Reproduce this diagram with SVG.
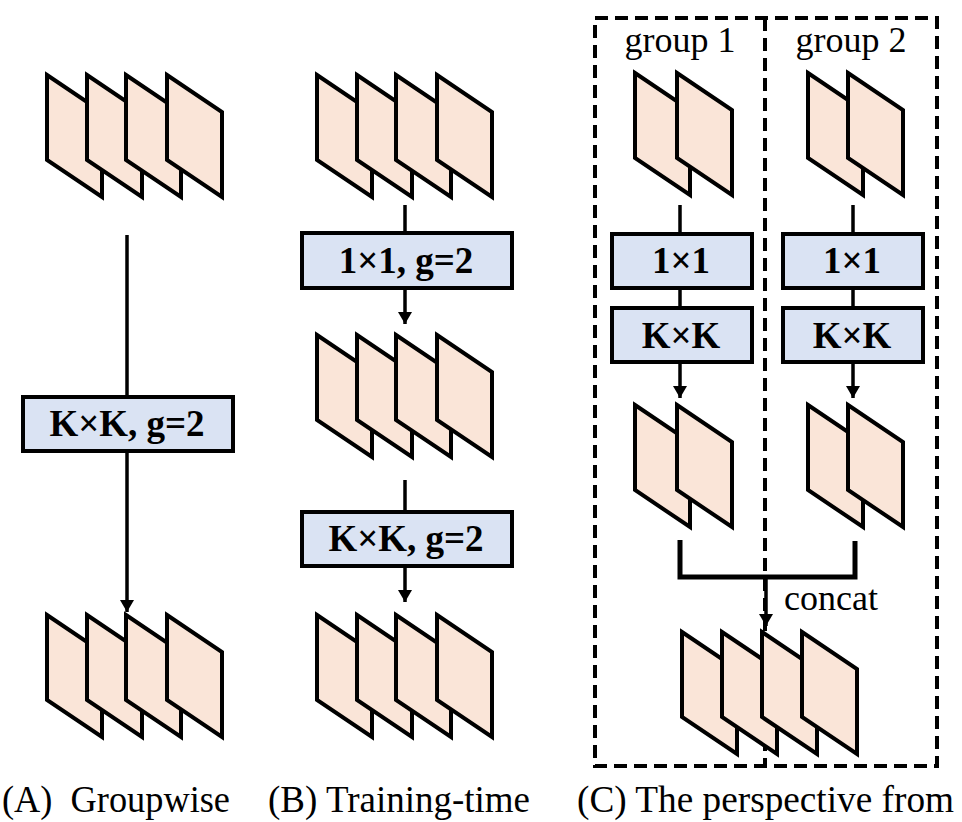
<svg xmlns="http://www.w3.org/2000/svg" width="962" height="822" viewBox="0 0 962 822">
  <defs>
    <style>
      .plate { fill: #FAE5D8; stroke: #000; stroke-width: 4; stroke-linejoin: miter; }
      .box { fill: #DAE3F3; stroke: #000; stroke-width: 4; }
      .serif { font-family: "Liberation Serif", "Times New Roman", Times, serif; }
      .btxt { font-weight: bold; font-size: 37px; fill: #000; text-anchor: middle; }
      .txt { font-size: 36px; fill: #000; }
      .cap { font-size: 38px; fill: #000; }
      .wire { stroke: #000; stroke-width: 3.5; fill: none; }
      .bracket { stroke: #000; stroke-width: 5; fill: none; }
      .dash { stroke: #000; stroke-width: 4; fill: none; stroke-dasharray: 13 7; }
    </style>
    <path id="plate" class="plate" d="M0,0 L55,37 L55,122 L0,85 Z"/>
    <marker id="arrow" viewBox="0 0 12 14" refX="12" refY="7" markerWidth="12" markerHeight="14" markerUnits="userSpaceOnUse" orient="auto">
      <path d="M0,0 L12,7 L0,14 Z" fill="#000"/>
    </marker>
  </defs>

  <!-- dashed group frames -->
  <g id="groups">
    <rect class="dash" x="595" y="18" width="342" height="748"/>
    <line class="dash" x1="765" y1="18" x2="765" y2="766"/>
    <text class="serif txt" x="680" y="52" text-anchor="middle">group 1</text>
    <text class="serif txt" x="851" y="52" text-anchor="middle">group 2</text>
  </g>

  <!-- connectors -->
  <g id="connectors">
    <line class="wire" x1="127" y1="235" x2="127" y2="397"/>
    <line class="wire" x1="127" y1="451" x2="127" y2="612" marker-end="url(#arrow)"/>
    <line class="wire" x1="405" y1="205" x2="405" y2="233"/>
    <line class="wire" x1="405" y1="288" x2="405" y2="324" marker-end="url(#arrow)"/>
    <line class="wire" x1="405" y1="480" x2="405" y2="512"/>
    <line class="wire" x1="405" y1="566" x2="405" y2="602" marker-end="url(#arrow)"/>
    <line class="wire" x1="680" y1="205" x2="680" y2="234"/>
    <line class="wire" x1="680" y1="288" x2="680" y2="308"/>
    <line class="wire" x1="680" y1="362" x2="680" y2="398" marker-end="url(#arrow)"/>
    <line class="wire" x1="853" y1="205" x2="853" y2="234"/>
    <line class="wire" x1="853" y1="288" x2="853" y2="308"/>
    <line class="wire" x1="853" y1="362" x2="853" y2="398" marker-end="url(#arrow)"/>
    <path class="bracket" d="M680,540 V577 H855 V541"/>
    <line class="wire" x1="766" y1="577" x2="766" y2="626" marker-end="url(#arrow)"/>
    <text class="serif txt" x="784" y="610">concat</text>
  </g>

  <!-- (A) groupwise -->
  <g id="a-input">
    <use href="#plate" x="47" y="75"/>
    <use href="#plate" x="87" y="75"/>
    <use href="#plate" x="126" y="75"/>
    <use href="#plate" x="167" y="75"/>
  </g>
  <g id="a-conv">
    <rect class="box" x="23" y="397" width="210" height="54"/>
    <text class="serif btxt" x="127" y="436">K×K, g=2</text>
  </g>
  <g id="a-output">
    <use href="#plate" x="47" y="615"/>
    <use href="#plate" x="87" y="615"/>
    <use href="#plate" x="126" y="615"/>
    <use href="#plate" x="167" y="615"/>
  </g>

  <!-- (B) training-time -->
  <g id="b-input">
    <use href="#plate" x="317" y="75"/>
    <use href="#plate" x="357" y="75"/>
    <use href="#plate" x="396" y="75"/>
    <use href="#plate" x="437" y="75"/>
  </g>
  <g id="b-conv1">
    <rect class="box" x="302" y="233" width="210" height="55"/>
    <text class="serif btxt" x="406" y="273">1×1, g=2</text>
  </g>
  <g id="b-mid">
    <use href="#plate" x="317" y="335"/>
    <use href="#plate" x="357" y="335"/>
    <use href="#plate" x="396" y="335"/>
    <use href="#plate" x="437" y="335"/>
  </g>
  <g id="b-convk">
    <rect class="box" x="302" y="512" width="210" height="54"/>
    <text class="serif btxt" x="406" y="551">K×K, g=2</text>
  </g>
  <g id="b-output">
    <use href="#plate" x="317" y="615"/>
    <use href="#plate" x="357" y="615"/>
    <use href="#plate" x="396" y="615"/>
    <use href="#plate" x="437" y="615"/>
  </g>

  <!-- (C) group 1 -->
  <g id="c1-input">
    <use href="#plate" x="635" y="73"/>
    <use href="#plate" x="677" y="73"/>
  </g>
  <g id="c1-conv1">
    <rect class="box" x="612" y="234" width="140" height="54"/>
    <text class="serif btxt" x="681" y="273">1×1</text>
  </g>
  <g id="c1-convk">
    <rect class="box" x="612" y="308" width="140" height="54"/>
    <text class="serif btxt" x="681" y="348">K×K</text>
  </g>
  <g id="c1-output">
    <use href="#plate" x="635" y="405"/>
    <use href="#plate" x="677" y="405"/>
  </g>

  <!-- (C) group 2 -->
  <g id="c2-input">
    <use href="#plate" x="808" y="73"/>
    <use href="#plate" x="848" y="73"/>
  </g>
  <g id="c2-conv1">
    <rect class="box" x="783" y="234" width="140" height="54"/>
    <text class="serif btxt" x="852" y="273">1×1</text>
  </g>
  <g id="c2-convk">
    <rect class="box" x="783" y="308" width="140" height="54"/>
    <text class="serif btxt" x="852" y="348">K×K</text>
  </g>
  <g id="c2-output">
    <use href="#plate" x="808" y="405"/>
    <use href="#plate" x="848" y="405"/>
  </g>

  <!-- (C) concatenated output -->
  <g id="c-output">
    <use href="#plate" x="682" y="632"/>
    <use href="#plate" x="722" y="632"/>
    <use href="#plate" x="762" y="632"/>
    <use href="#plate" x="802" y="632"/>
  </g>

  <!-- captions -->
  <g id="captions">
    <text class="serif cap" x="2" y="812" textLength="228" lengthAdjust="spacingAndGlyphs" xml:space="preserve">(A)  Groupwise</text>
    <text class="serif cap" x="268" y="812" textLength="262" lengthAdjust="spacingAndGlyphs">(B) Training-time</text>
    <text class="serif cap" x="577" y="812" textLength="377" lengthAdjust="spacingAndGlyphs">(C) The perspective from</text>
  </g>
</svg>
